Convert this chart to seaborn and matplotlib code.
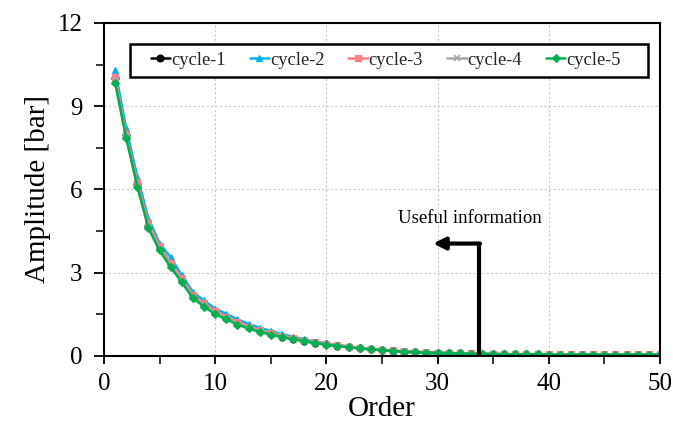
import numpy as np
import pandas as pd
import matplotlib
matplotlib.use("Agg")
import matplotlib.pyplot as plt
from matplotlib.patches import Rectangle
import seaborn as sns

order = list(range(1, 51))

cycle_1 = [10.0, 7.95, 6.2, 4.7, 3.9, 3.3, 2.75, 2.15, 1.85, 1.58, 1.38, 1.18, 1.03, 0.9, 0.8,
           0.7, 0.62, 0.55, 0.48, 0.42, 0.37, 0.32, 0.28, 0.24, 0.21, 0.18, 0.16, 0.14, 0.12, 0.11,
           0.1, 0.09, 0.08, 0.07, 0.07, 0.06, 0.06, 0.06, 0.06, 0.05, 0.05, 0.05, 0.05, 0.05, 0.05,
           0.05, 0.05, 0.05, 0.05, 0.05]
cycle_2 = [10.3, 8.2, 6.45, 4.95, 4.05, 3.55, 2.9, 2.3, 2.0, 1.7, 1.52, 1.32, 1.15, 1.02, 0.9,
           0.78, 0.7, 0.6, 0.52, 0.45, 0.4, 0.34, 0.29, 0.25, 0.21, 0.18, 0.15, 0.12, 0.1, 0.08,
           0.06, 0.05, 0.04, 0.03, 0.02, 0.02, 0.02, 0.01, 0.01, 0.01, 0.01, 0.01, 0.0, 0.0, 0.0,
           0.0, 0.0, 0.0, 0.0, 0.0]
cycle_3 = [10.05, 8.0, 6.25, 4.8, 3.95, 3.35, 2.8, 2.2, 1.9, 1.62, 1.42, 1.22, 1.06, 0.93, 0.83,
           0.73, 0.65, 0.57, 0.5, 0.44, 0.39, 0.34, 0.3, 0.26, 0.23, 0.2, 0.18, 0.16, 0.14, 0.12,
           0.11, 0.1, 0.09, 0.08, 0.08, 0.07, 0.07, 0.07, 0.07, 0.06, 0.06, 0.06, 0.06, 0.06, 0.06,
           0.06, 0.06, 0.06, 0.06, 0.06]
cycle_4 = [9.95, 7.9, 6.15, 4.65, 3.85, 3.25, 2.7, 2.12, 1.82, 1.55, 1.35, 1.15, 1.01, 0.88, 0.78,
           0.69, 0.61, 0.54, 0.47, 0.41, 0.36, 0.31, 0.27, 0.24, 0.21, 0.18, 0.16, 0.14, 0.12, 0.11,
           0.1, 0.09, 0.08, 0.07, 0.07, 0.06, 0.06, 0.06, 0.06, 0.05, 0.05, 0.05, 0.05, 0.05, 0.05,
           0.05, 0.05, 0.05, 0.05, 0.05]
cycle_5 = [9.85, 7.85, 6.1, 4.6, 3.8, 3.2, 2.65, 2.08, 1.78, 1.5, 1.32, 1.13, 0.99, 0.87, 0.77,
           0.68, 0.6, 0.53, 0.46, 0.41, 0.36, 0.31, 0.27, 0.24, 0.21, 0.18, 0.16, 0.14, 0.12, 0.11,
           0.1, 0.09, 0.08, 0.07, 0.07, 0.06, 0.06, 0.06, 0.06, 0.05, 0.05, 0.05, 0.05, 0.05, 0.05,
           0.05, 0.05, 0.05, 0.05, 0.05]

names = ["cycle-1", "cycle-2", "cycle-3", "cycle-4", "cycle-5"]
series = [cycle_1, cycle_2, cycle_3, cycle_4, cycle_5]
colors = ["#000000", "#00B0F0", "#FF7C80", "#A6A6A6", "#00B050"]
markers = ["o", "^", "s", "x", "D"]

sns.set_theme(style="white")
plt.rcParams["font.family"] = ["Liberation Serif", "DejaVu Serif"]

fig = plt.figure(figsize=(6.73, 4.32), dpi=100)
ax = fig.add_axes([0.1545, 0.176, 0.826, 0.771])

for n, s, c, m in zip(names, series, colors, markers):
    d = pd.DataFrame({"Order": order, "Amplitude": s})
    sns.lineplot(data=d, x="Order", y="Amplitude", color=c, marker=m,
                 markersize=5 if m != "D" else 4, linewidth=1.8,
                 markeredgewidth=0.8 if m != "x" else 1.2, markeredgecolor=c,
                 label=n, ax=ax)

ax.set_xlim(0, 50)
ax.set_ylim(0, 12)
ax.set_xticks([0, 10, 20, 30, 40, 50])
ax.set_yticks([0, 3, 6, 9, 12])
ax.set_xticks([5, 15, 25, 35, 45], minor=True)
ax.set_yticks([1.5, 4.5, 7.5, 10.5], minor=True)
ax.grid(True, which="major", linestyle=(0, (2, 2)), color="#C8C8C8", linewidth=0.8)
ax.tick_params(axis="y", which="major", direction="out", length=7.5, width=1.3, labelsize=18,
               colors="black", left=True, pad=8)
ax.tick_params(axis="x", which="major", direction="out", length=6, width=1.3, labelsize=18,
               colors="black", bottom=True, pad=6)
ax.tick_params(which="minor", direction="out", length=6, width=1.3, bottom=True, left=True)
for sp in ax.spines.values():
    sp.set_color("black")
    sp.set_linewidth(1.5)

ax.set_xlabel("Order", fontsize=21, color="black", labelpad=1)
ax.set_ylabel("Amplitude [bar]", fontsize=21, color="black", labelpad=5)

# legend frame drawn as a box, legend itself frameless
box = Rectangle((0.0468, 0.838), 0.9317, 0.099, transform=ax.transAxes,
                facecolor="white", edgecolor="black", linewidth=1.8, zorder=6)
ax.add_patch(box)
handles, labels = ax.get_legend_handles_labels()
leg = ax.legend(handles, labels, ncol=5, loc="center", bbox_to_anchor=(0.507, 0.8874),
                fontsize=13.3, frameon=False, handlelength=1.05, handletextpad=0.05,
                columnspacing=1.3, borderpad=0.0)
leg.set_zorder(7)

ax.plot([33.7, 33.7], [0.0, 4.05], color="black", linewidth=3, solid_capstyle="butt", zorder=5)
ax.annotate("", xy=(29.6, 4.05), xytext=(33.83, 4.05),
            arrowprops=dict(arrowstyle="-|>", lw=3, color="black", mutation_scale=18,
                            shrinkA=0, shrinkB=0), zorder=5)
ax.text(32.9, 4.95, "Useful information", fontsize=13.5, ha="center", va="center", color="black")

fig.savefig("out.png", dpi=100)
